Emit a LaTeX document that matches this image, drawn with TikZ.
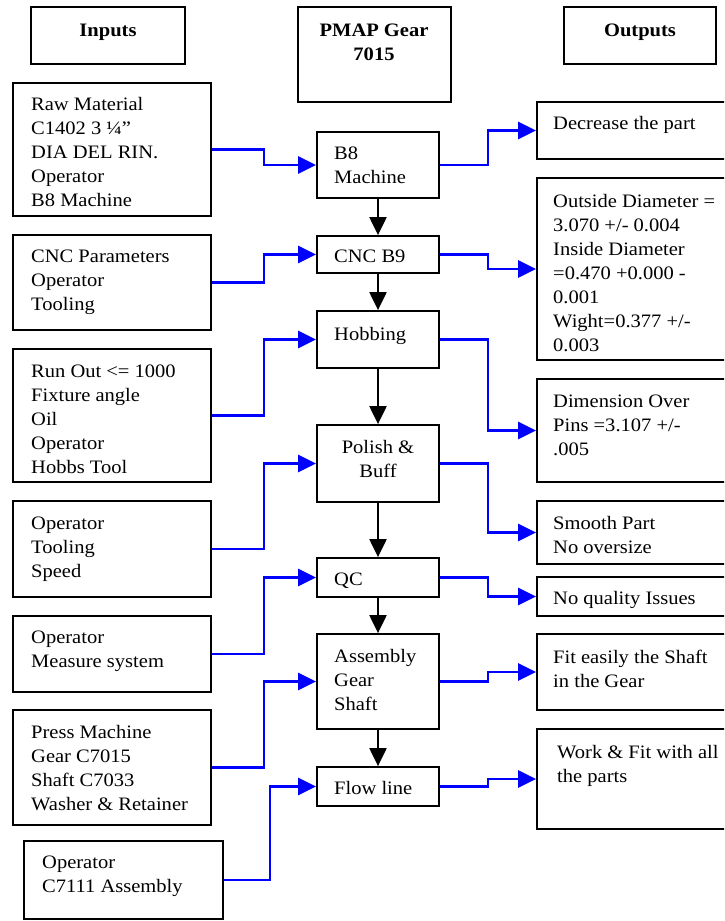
\documentclass[tikz,border=0pt]{standalone}
\usepackage{fontspec}
\setmainfont{Liberation Serif}[FakeStretch=1.08]
\usetikzlibrary{arrows.meta,fit}
\definecolor{feedblue}{RGB}{0,0,255}
\newcommand\fs{\fontsize{19pt}{24pt}\selectfont}
\newcommand\firstline{\rule{0pt}{17pt}}
\begin{document}
\begin{tikzpicture}[x=1pt,y=-1pt,
  box/.style={draw, line width=1.8pt, inner sep=0pt, rectangle},
  txt/.style={anchor=north west, inner sep=0pt, align=left, font=\fs},
  ctxt/.style={anchor=north, inner sep=0pt, align=center, font=\fs},
  htxt/.style={anchor=north, inner sep=0pt, align=center, font=\fs\bfseries},
  feed/.style={draw=feedblue, line width=2.6pt, -{Triangle[length=18pt,width=17pt]}},
  mainflow/.style={draw=black, line width=2.2pt, -{Triangle[length=18pt,width=17pt]}}]
\useasboundingbox (0,0) rectangle (724,921);
\clip (0,0) rectangle (724,921);

% column elbows
\coordinate (xin) at (264,0);
\coordinate (xinlow) at (270,0);
\coordinate (xout) at (488,0);

% headers
\node[box, fit={(31,7)(185,64)}] (hin) {};
\node[htxt] (hinT) at (108,19) {\firstline Inputs};
\node[box, fit={(298,7)(451,102)}] (hpm) {};
\node[htxt] (hpmT) at (374,19) {\firstline PMAP Gear\\7015};
\node[box, fit={(564,7)(716,64)}] (hout) {};
\node[htxt] (houtT) at (640,19) {\firstline Outputs};

% inputs
\node[box, fit={(13,83)(211,216)}] (raw) {};
\node[txt] (rawT) at (31,93) {\firstline Raw Material\\C1402 3 ¼”\\DIA DEL RIN.\\Operator\\B8 Machine};
\node[box, fit={(13,235)(211,330)}] (cncp) {};
\node[txt] (cncpT) at (31,245) {\firstline CNC Parameters\\Operator\\Tooling};
\node[box, fit={(13,349)(211,482)}] (run) {};
\node[txt] (runT) at (31,360) {\firstline Run Out <= 1000\\Fixture angle\\Oil\\Operator\\Hobbs Tool};
\node[box, fit={(13,501)(211,597)}] (ots) {};
\node[txt] (otsT) at (31,512) {\firstline Operator\\Tooling\\Speed};
\node[box, fit={(13,616)(211,692)}] (opm) {};
\node[txt] (opmT) at (31,626) {\firstline Operator\\Measure system};
\node[box, fit={(13,710)(211,825)}] (press) {};
\node[txt] (pressT) at (31,721) {\firstline Press Machine\\Gear C7015\\Shaft C7033\\Washer \& Retainer};
\node[box, fit={(24,841)(223,919)}] (opc) {};
\node[txt] (opcT) at (42,851) {\firstline Operator\\C7111 Assembly};

% process steps
\node[box, fit={(317,132)(439,198)}] (b8) {};
\node[txt] (b8T) at (334,142) {\firstline B8\\Machine};
\node[box, fit={(317,236)(439,273)}] (cnc) {};
\node[txt] (cncT) at (334,245) {\firstline CNC B9};
\node[box, fit={(317,311)(439,368)}] (hob) {};
\node[txt] (hobT) at (334,323) {\firstline Hobbing};
\node[box, fit={(317,425)(439,502)}] (pol) {};
\node[ctxt] (polT) at (378,436) {\firstline Polish \&\\Buff};
\node[box, fit={(317,558)(439,597)}] (qc) {};
\node[txt] (qcT) at (334,568) {\firstline QC};
\node[box, fit={(317,634)(439,729)}] (asm) {};
\node[txt] (asmT) at (334,645) {\firstline Assembly\\Gear\\Shaft};
\node[box, fit={(317,767)(439,806)}] (flow) {};
\node[txt] (flowT) at (334,777) {\firstline Flow line};

% outputs
\node[box, fit={(537,102)(740,159)}] (dec) {};
\node[txt] (decT) at (553,112) {\firstline Decrease the part};
\node[box, fit={(537,178)(740,360)}] (dia) {};
\node[txt] (diaT) at (553,190) {\firstline Outside Diameter =\\3.070 +/- 0.004\\Inside Diameter\\=0.470 +0.000 -\\0.001\\Wight=0.377 +/-\\0.003};
\node[box, fit={(537,379)(740,482)}] (dim) {};
\node[txt] (dimT) at (553,390) {\firstline Dimension Over\\Pins =3.107 +/-\\.005};
\node[box, fit={(537,501)(740,564)}] (smo) {};
\node[txt] (smoT) at (553,512) {\firstline Smooth Part\\No oversize};
\node[box, fit={(537,577)(740,616)}] (noq) {};
\node[txt] (noqT) at (553,587) {\firstline No quality Issues};
\node[box, fit={(537,634)(740,710)}] (fitb) {};
\node[txt] (fitbT) at (553,646) {\firstline Fit easily the Shaft\\in the Gear};
\node[box, fit={(537,729)(740,829)}] (work) {};
\node[txt] (workT) at (557,741) {\firstline Work \& Fit with all\\the parts};

% main sequence
\draw[mainflow] (b8.south) -- (cnc.north);
\draw[mainflow] (cnc.south) -- (hob.north);
\draw[mainflow] (hob.south) -- (pol.north);
\draw[mainflow] (pol.south) -- (qc.north);
\draw[mainflow] (qc.south) -- (asm.north);
\draw[mainflow] (asm.south) -- (flow.north);

% inputs into steps
\draw[feed] (raw.east) -- (raw.east -| xin) |- (b8.west);
\draw[feed] (cncp.east) -- (cncp.east -| xin) |- (cnc.west);
\draw[feed] (run.east) -- (run.east -| xin) |- (hob.west);
\draw[feed] (ots.east) -- (ots.east -| xin) |- (pol.west);
\draw[feed] (opm.east) -- (opm.east -| xin) |- (qc.west);
\draw[feed] (press.east) -- (press.east -| xin) |- (asm.west);
\draw[feed] (opc.east) -- (opc.east -| xinlow) |- (flow.west);

% steps into outputs
\draw[feed] (b8.east) -- (b8.east -| xout) |- (dec.west);
\draw[feed] (cnc.east) -- (cnc.east -| xout) |- (dia.west);
\draw[feed] (hob.east) -- (hob.east -| xout) |- (dim.west);
\draw[feed] (pol.east) -- (pol.east -| xout) |- (smo.west);
\draw[feed] (qc.east) -- (qc.east -| xout) |- (noq.west);
\draw[feed] (asm.east) -- (asm.east -| xout) |- (fitb.west);
\draw[feed] (flow.east) -- (flow.east -| xout) |- (work.west);
\end{tikzpicture}
\end{document}
